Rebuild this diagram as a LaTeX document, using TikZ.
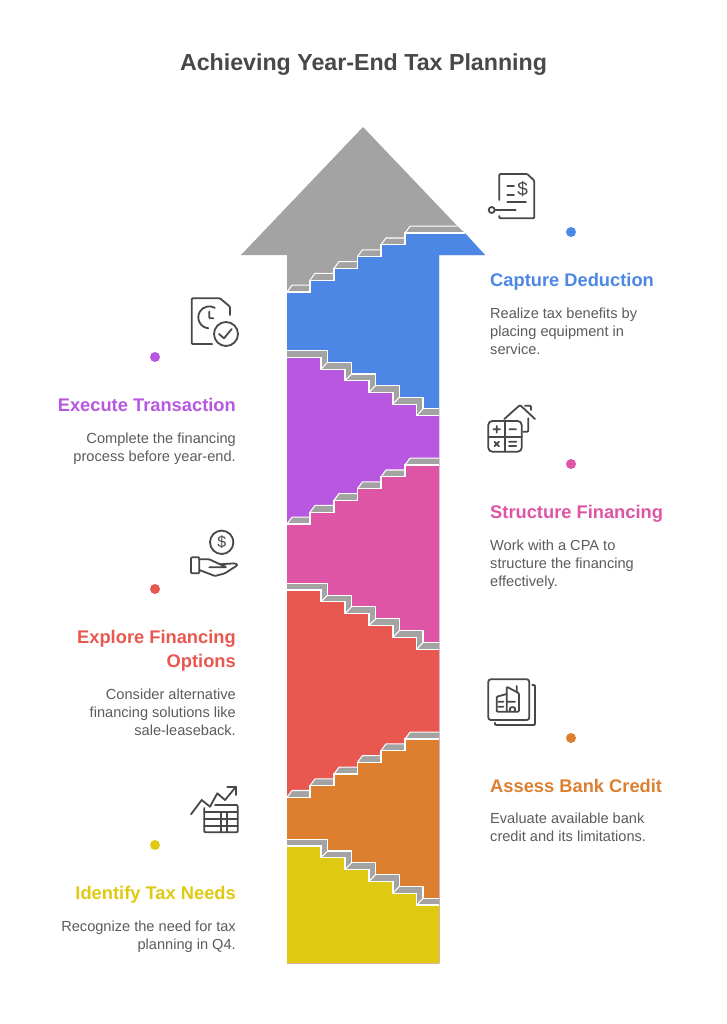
\documentclass[tikz,border=0pt]{standalone}
\usepackage{fontspec}
\setmainfont{Liberation Sans}
\definecolor{cgray}{HTML}{A3A3A3}
\definecolor{cblue}{HTML}{4C87E6}
\definecolor{cpurple}{HTML}{B858E0}
\definecolor{cpink}{HTML}{DE55A5}
\definecolor{cred}{HTML}{E85850}
\definecolor{corange}{HTML}{DC8030}
\definecolor{cyellow}{HTML}{DFC912}
\definecolor{ctitle}{HTML}{484848}
\definecolor{cbody}{HTML}{5C5C5C}
\definecolor{cicon}{HTML}{484848}
\tikzset{
  iconline/.style={draw=cicon,line width=1.8pt,line cap=round,line join=round,rounded corners=1pt},
  stairline/.style={draw=white,line width=1.05pt,line join=miter},
  dotmark/.style={circle,inner sep=0pt,minimum size=10pt},
  headtext/.style={inner sep=0pt,font=\fontsize{18.3}{24}\bfseries\selectfont},
  bodytext/.style={inner sep=0pt,text=cbody,font=\fontsize{14.6}{18}\selectfont},
  titletext/.style={inner sep=0pt,text=ctitle,font=\fontsize{23.2}{28}\bfseries\selectfont},
}
% filled layer with an upward stair as its top
\newcommand\upfill[3]{%
  \pgfmathsetmacro\dd{(#1-#2)/5}%
  \pgfmathsetmacro\ya{#1-\dd}\pgfmathsetmacro\yb{#1-2*\dd}\pgfmathsetmacro\yc{#1-3*\dd}\pgfmathsetmacro\yd{#1-4*\dd}%
  \fill[#3] (287,#1)--(310,#1)--(310,\ya)--(334,\ya)--(334,\yb)--(357.5,\yb)--(357.5,\yc)--(381,\yc)--(381,\yd)--(405,\yd)--(405,#2)--(439,#2)--(439,963)--(287,963)--cycle;
}
% treads of an upward stair
\newcommand\uptread[4]{% xs xe y topxe
  \fill[cgray] (#1,#3)--(#2,#3)--(#4,#3-6.8)--(#1+5,#3-6.8)--cycle;
  \draw[stairline] (#1,#3)--(#1+5,#3-6.8)--(#4,#3-6.8);
}
\newcommand\upstairs[4]{% y0 y5 xe topxe
  \pgfmathsetmacro\dd{(#1-#2)/5}%
  \pgfmathsetmacro\ya{#1-\dd}\pgfmathsetmacro\yb{#1-2*\dd}\pgfmathsetmacro\yc{#1-3*\dd}\pgfmathsetmacro\yd{#1-4*\dd}%
  \uptread{287}{310}{#1}{310}\uptread{310}{334}{\ya}{334}\uptread{334}{357.5}{\yb}{357.5}\uptread{357.5}{381}{\yc}{381}\uptread{381}{405}{\yd}{405}\uptread{405}{#3}{#2}{#4}%
  \draw[stairline] (287,#1)--(310,#1)--(310,\ya)--(334,\ya)--(334,\yb)--(357.5,\yb)--(357.5,\yc)--(381,\yc)--(381,\yd)--(405,\yd)--(405,#2)--(#3,#2);
}
\newcommand\downfill[3]{%
  \pgfmathsetmacro\dd{(#2-#1)/5}%
  \pgfmathsetmacro\ya{#1+\dd}\pgfmathsetmacro\yb{#1+2*\dd}\pgfmathsetmacro\yc{#1+3*\dd}\pgfmathsetmacro\yd{#1+4*\dd}%
  \fill[#3] (287,#1)--(321,#1)--(321,\ya)--(345,\ya)--(345,\yb)--(369,\yb)--(369,\yc)--(393,\yc)--(393,\yd)--(416.7,\yd)--(416.7,#2)--(439,#2)--(439,963)--(287,963)--cycle;
}
\newcommand\downstairs[2]{%
  \pgfmathsetmacro\dd{(#2-#1)/5}%
  \pgfmathsetmacro\ya{#1+\dd}\pgfmathsetmacro\yb{#1+2*\dd}\pgfmathsetmacro\yc{#1+3*\dd}\pgfmathsetmacro\yd{#1+4*\dd}%
  \fill[cgray] (287,#1)--(321,#1)--(321,\ya)--(345,\ya)--(345,\yb)--(369,\yb)--(369,\yc)--(393,\yc)--(393,\yd)--(416.7,\yd)--(416.7,#2)--(439,#2)
    --(439,#2-6.8)--(423,#2-6.8)--(423,\yd-6.8)--(399.3,\yd-6.8)--(399.3,\yc-6.8)--(375.5,\yc-6.8)--(375.5,\yb-6.8)--(351.5,\yb-6.8)--(351.5,\ya-6.8)--(327.5,\ya-6.8)--(327.5,#1-6.8)--(287,#1-6.8)--cycle;
  \draw[stairline] (287,#1)--(321,#1)--(321,\ya)--(345,\ya)--(345,\yb)--(369,\yb)--(369,\yc)--(393,\yc)--(393,\yd)--(416.7,\yd)--(416.7,#2)--(439,#2);
  \draw[stairline] (439,#2-6.8)--(423,#2-6.8)--(423,\yd-6.8)--(399.3,\yd-6.8)--(399.3,\yc-6.8)--(375.5,\yc-6.8)--(375.5,\yb-6.8)--(351.5,\yb-6.8)--(351.5,\ya-6.8)--(327.5,\ya-6.8)--(327.5,#1-6.8)--(287,#1-6.8);
  \draw[stairline] (321,\ya)--(327.5,\ya-6.8) (345,\yb)--(351.5,\yb-6.8) (369,\yc)--(375.5,\yc-6.8) (393,\yd)--(399.3,\yd-6.8) (416.7,#2)--(423,#2-6.8);
}
\begin{document}
\begin{tikzpicture}[x=1pt,y=-1pt]
\useasboundingbox (0,0) rectangle (726,1024);
\fill[white] (0,0) rectangle (726,1024);
% title
\node[titletext,anchor=base] (title) at (363.5,71) {Achieving Year-End Tax Planning};
% arrow
\fill[cgray] (363,127)--(485,255)--(439,255)--(439,963)--(287,963)--(287,255)--(241,255)--cycle;
\fill[cblue] (439,233)--(465,233)--(485,255)--(439,255)--cycle;
\upfill{292}{233}{cblue}
\downfill{357.5}{415.7}{cpurple}
\upfill{524}{465}{cpink}
\downfill{590}{649.3}{cred}
\upfill{797.3}{739}{corange}
\downfill{846}{905}{cyellow}
\upstairs{292}{233}{465}{457.3}
\downstairs{357.5}{415.7}
\upstairs{524}{465}{439}{439}
\downstairs{590}{649.3}
\upstairs{797.3}{739}{439}{439}
\downstairs{846}{905}
% dots
\node[dotmark,fill=cblue] (dotblue) at (571,232) {};
\node[dotmark,fill=cpurple] (dotpurple) at (155,357) {};
\node[dotmark,fill=cpink] (dotpink) at (571,464) {};
\node[dotmark,fill=cred] (dotred) at (155,589) {};
\node[dotmark,fill=corange] (dotorange) at (571,738) {};
\node[dotmark,fill=cyellow] (dotyellow) at (155,845) {};
% right texts
\node[headtext,text=cblue,anchor=base west] (h1) at (490,286) {Capture Deduction};
\node[bodytext,anchor=base west] (b1a) at (490,318) {Realize tax benefits by};
\node[bodytext,anchor=base west] (b1b) at (490,336) {placing equipment in};
\node[bodytext,anchor=base west] (b1c) at (490,354) {service.};
\node[headtext,text=cpink,anchor=base west] (h3) at (490,518) {Structure Financing};
\node[bodytext,anchor=base west] (b3a) at (490,550) {Work with a CPA to};
\node[bodytext,anchor=base west] (b3b) at (490,568) {structure the financing};
\node[bodytext,anchor=base west] (b3c) at (490,586) {effectively.};
\node[headtext,text=corange,anchor=base west] (h5) at (490,792) {Assess Bank Credit};
\node[bodytext,anchor=base west] (b5a) at (490,823) {Evaluate available bank};
\node[bodytext,anchor=base west] (b5b) at (490,841) {credit and its limitations.};
% left texts
\node[headtext,text=cpurple,anchor=base east] (h2) at (236,411) {Execute Transaction};
\node[bodytext,anchor=base east] (b2a) at (236,443) {Complete the financing};
\node[bodytext,anchor=base east] (b2b) at (236,461) {process before year-end.};
\node[headtext,text=cred,anchor=base east] (h4a) at (236,643) {Explore Financing};
\node[headtext,text=cred,anchor=base east] (h4b) at (236,667) {Options};
\node[bodytext,anchor=base east] (b4a) at (236,699) {Consider alternative};
\node[bodytext,anchor=base east] (b4b) at (236,717) {financing solutions like};
\node[bodytext,anchor=base east] (b4c) at (236,735) {sale-leaseback.};
\node[headtext,text=cyellow,anchor=base east] (h6) at (236,899) {Identify Tax Needs};
\node[bodytext,anchor=base east] (b6a) at (236,931) {Recognize the need for tax};
\node[bodytext,anchor=base east] (b6b) at (236,949) {planning in Q4.};
% icon: document with dollar
\draw[iconline] (499.3,200)--(499.3,174)--(527.3,174)--(534.3,180.7)--(534.3,218.3)--(499.3,218.3)--(499.3,216);
\draw[iconline] (491.7,210) circle[radius=3pt];
\draw[iconline] (495,210)--(515.7,210) (507.3,185.7)--(514,185.7) (507.3,194.7)--(514,194.7) (507.3,202.3)--(526,202.3);
\node[inner sep=0pt,text=cicon,font=\fontsize{19}{19}\selectfont] (i1d) at (522.7,189.3) {\$};
% icon: document, clock, check
\draw[iconline] (212.3,344)--(191.7,344)--(191.7,298.3)--(220,298.3)--(230,306.7)--(230,315);
\draw[iconline] (209.3,317.3) ++(60:11pt) arc[start angle=60,end angle=265,radius=11pt];
\draw[iconline] (209.3,311.7)--(209.3,318.3)--(213.3,318.3);
\draw[iconline] (226,334) circle[radius=12pt];
\draw[iconline,rounded corners=0pt] (219,334)--(224,338.3)--(231.7,329);
% icon: calculator and house
\draw[iconline,rounded corners=4pt] (488.3,421) rectangle (521.7,451.7);
\draw[iconline] (505,421)--(505,451.7) (488.3,436.7)--(521.7,436.7);
\draw[iconline] (493.4,429.3)--(500,429.3) (496.7,426)--(496.7,432.6) (509.4,429.3)--(516,429.3) (494.5,441.8)--(498.9,446.2) (498.9,441.8)--(494.5,446.2) (509,441.7)--(516.3,441.7) (509,446)--(516.3,446);
\draw[iconline] (504.3,419)--(520,405)--(535,419) (525,405.7)--(531,405.7)--(531,410) (528.3,418.3)--(528.3,431.7)--(523.3,431.7);
% icon: hand and coin
\draw[iconline] (221.7,542.3) circle[radius=11.7pt];
\node[inner sep=0pt,text=cicon,font=\fontsize{16}{16}\selectfont] (i4d) at (221.7,542.3) {\$};
\draw[iconline] (191,557.3) rectangle (199.3,573.3);
\draw[iconline] (199.3,559.3)--(209.3,559.3)--(220,564.3)--(235,563.3)--(237.7,565)--(225,573.3)--(215,576)--(199.3,570);
\draw[iconline] (209.3,567.3)--(226.7,567.3)--(220,564.3);
% icon: building in frames
\draw[iconline,rounded corners=2.5pt] (488.3,679.3) rectangle (529.3,720);
\draw[iconline] (532.3,685)--(535,685)--(535,725)--(495,725)--(495,722.7);
\draw[iconline] (506.7,711.7)--(496.7,711.7)--(496.7,696.7)--(506.7,694);
\draw[iconline] (506.7,711.7)--(506.7,686.7)--(519,693.3)--(519,711.7)--cycle;
\draw[iconline] (498.3,701.7)--(503.3,701.7) (498.3,706.7)--(503.3,706.7) (506.7,701.7)--(515,701.7) (510,711.7)--(510,707.3)--(515,707.3)--(515,711.7) (516.7,686)--(516.7,691.7);
% icon: chart and table
\draw[iconline,rounded corners=0pt] (191,814.3)--(201.7,800)--(210,806.7)--(217.3,793.3)--(225,800)--(236,786.7);
\draw[iconline,rounded corners=0pt] (227.3,786.7)--(236,786.7)--(236,795);
\draw[iconline] (204.3,808)--(204.3,832.3)--(237.7,832.3)--(237.7,805)--(215,805);
\draw[iconline] (204.3,812.3)--(237.7,812.3) (204.3,819)--(237.7,819) (204.3,825.7)--(237.7,825.7) (220.7,812.3)--(220.7,832.3) (227.3,812.3)--(227.3,832.3);
\end{tikzpicture}
\end{document}
